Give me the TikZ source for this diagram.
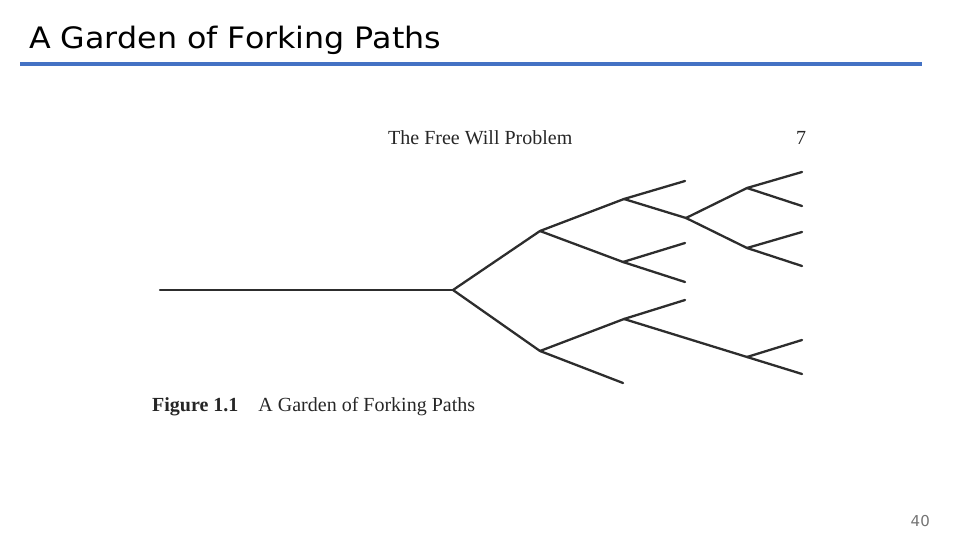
\documentclass[tikz,border=0pt]{standalone}
\usepackage{fontspec}
\setmainfont{Liberation Serif}
\newfontfamily\slidefont[FakeStretch=1.075]{DejaVu Sans}
\newfontfamily\numfont{DejaVu Sans}
\definecolor{rulebl}{RGB}{68,114,196}
\definecolor{branch}{RGB}{45,45,45}
\begin{document}
\begin{tikzpicture}[x=1pt,y=-1pt,
  br/.style={draw=branch,line width=2.3pt,line cap=round,line join=round},
  title/.style={font=\slidefont\fontsize{29.5}{32}\selectfont,anchor=base west,inner sep=0pt},
  booktxt/.style={font=\fontsize{20}{22}\selectfont,anchor=base west,inner sep=0pt,text=black!85}]
\useasboundingbox (0,0) rectangle (960,540);
\node[title] (t) at (29,48.5) {A Garden of Forking Paths};
\draw[rulebl,line width=3.2pt] (20,64) -- (922,64);
\node[booktxt] (hdr) at (388,145) {The Free Will Problem};
\node[booktxt] (pg) at (796,145) {7};
\node[booktxt] (cap) at (152,411) {\textbf{Figure 1.1}\hspace{20pt}A Garden of Forking Paths};
\node[font=\numfont\fontsize{15}{17}\selectfont,text=black!55,anchor=base east,inner sep=0pt] (num) at (930,526) {40};
% tree
\coordinate (S) at (160,290);
\coordinate (A) at (453,290);
\coordinate (B) at (540,231);
\coordinate (C) at (540,351);
\coordinate (D) at (624,199);
\coordinate (E) at (623,262);
\coordinate (F) at (686,218);
\coordinate (G) at (747,188);
\coordinate (H) at (747,248);
\coordinate (I) at (624,319);
\coordinate (J) at (747,357);
\coordinate (d1) at (685,181);
\coordinate (g1) at (802,172);
\coordinate (g2) at (802,206);
\coordinate (h1) at (802,232);
\coordinate (h2) at (802,266);
\coordinate (e1) at (685,243);
\coordinate (e2) at (685,282);
\coordinate (c2) at (623,383);
\coordinate (i1) at (685,300);
\coordinate (j1) at (802,340);
\coordinate (j2) at (802,374);
\draw[br] (S) -- (A);
\draw[br] (A) -- (B);
\draw[br] (A) -- (C);
\draw[br] (B) -- (D);
\draw[br] (B) -- (E);
\draw[br] (D) -- (d1);
\draw[br] (D) -- (F);
\draw[br] (F) -- (G);
\draw[br] (F) -- (H);
\draw[br] (G) -- (g1);
\draw[br] (G) -- (g2);
\draw[br] (H) -- (h1);
\draw[br] (H) -- (h2);
\draw[br] (E) -- (e1);
\draw[br] (E) -- (e2);
\draw[br] (C) -- (I);
\draw[br] (C) -- (c2);
\draw[br] (I) -- (i1);
\draw[br] (I) -- (J);
\draw[br] (J) -- (j1);
\draw[br] (J) -- (j2);
\end{tikzpicture}
\end{document}
